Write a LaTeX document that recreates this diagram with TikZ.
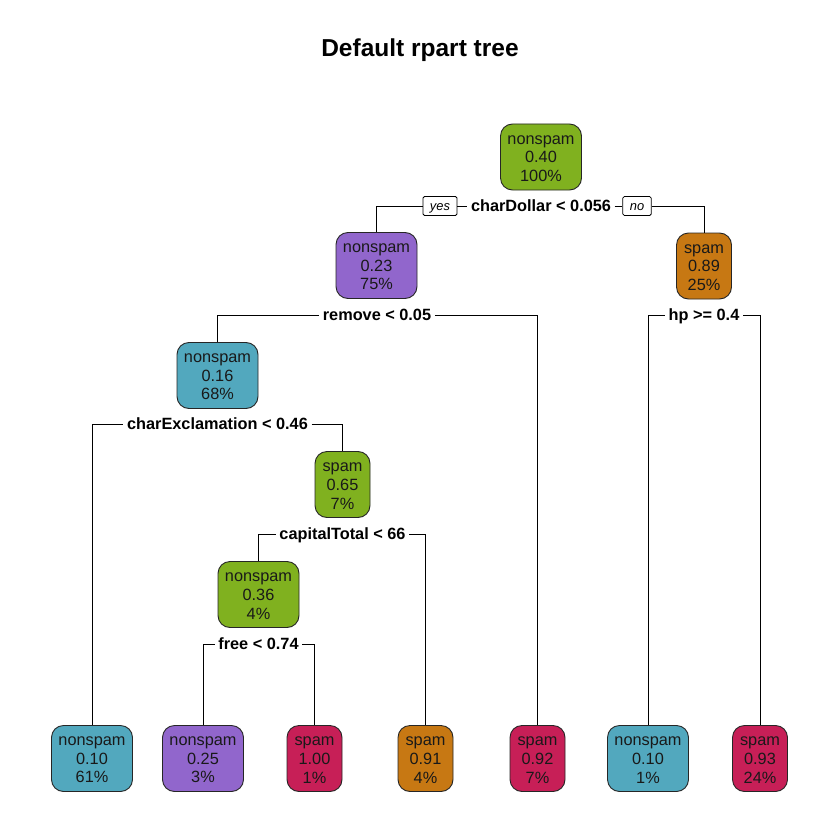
\documentclass[tikz,border=0pt]{standalone}
\usepackage{fontspec}
\setmainfont{Liberation Sans}
\definecolor{cgreen}{RGB}{128,177,31}
\definecolor{cpurple}{RGB}{145,102,204}
\definecolor{cteal}{RGB}{82,168,190}
\definecolor{corange}{RGB}{199,120,19}
\definecolor{ccrimson}{RGB}{199,31,87}
\newcommand{\nd}[3]{\rule{0pt}{11.7pt}#1\\#2\\#3}
\begin{document}
\begin{tikzpicture}[x=1pt,y=-1pt,
  tnode/.style={draw=black!85, line width=0.9pt, rounded corners=12pt, minimum height=66pt,
    inner sep=0pt, align=center, font=\fontsize{16.3}{18.7}\selectfont, text=black!90},
  wide/.style={tnode, minimum width=81pt},
  narrow/.style={tnode, minimum width=55pt},
  split/.style={fill=white, inner sep=3.5pt, font=\fontsize{16.3}{18.7}\selectfont\bfseries,
    text height=11.7pt, text depth=0pt},
  yn/.style={draw, fill=white, line width=0.8pt, rounded corners=1.5pt, inner xsep=7pt,
    minimum height=19pt, inner ysep=0pt, font=\fontsize{12.9}{14}\selectfont\itshape,
    text height=8.5pt, text depth=0pt},
  conn/.style={line width=0.9pt, black}]
\useasboundingbox (0,0) rectangle (840,840);
\node[font=\fontsize{24.5}{28}\selectfont\bfseries] (title) at (420,50) {Default rpart tree};
% internal nodes
\node[wide, fill=cgreen] (n1) at (541,157) {\nd{nonspam}{0.40}{100\%}};
\node[wide, fill=cpurple] (n2) at (376.5,265.5) {\nd{nonspam}{0.23}{75\%}};
\node[narrow, fill=corange] (n3) at (704,266) {\nd{spam}{0.89}{25\%}};
\node[wide, fill=cteal] (n4) at (217.5,375.5) {\nd{nonspam}{0.16}{68\%}};
\node[narrow, fill=cgreen] (n5) at (342.5,484.5) {\nd{spam}{0.65}{7\%}};
\node[wide, fill=cgreen] (n6) at (258.5,594.5) {\nd{nonspam}{0.36}{4\%}};
% leaves
\node[wide, fill=cteal] (l1) at (92,758.5) {\nd{nonspam}{0.10}{61\%}};
\node[wide, fill=cpurple] (l2) at (203,758.5) {\nd{nonspam}{0.25}{3\%}};
\node[narrow, fill=ccrimson] (l3) at (314.5,758.5) {\nd{spam}{1.00}{1\%}};
\node[narrow, fill=corange] (l4) at (425.5,758.5) {\nd{spam}{0.91}{4\%}};
\node[narrow, fill=ccrimson] (l5) at (537.5,758.5) {\nd{spam}{0.92}{7\%}};
\node[wide, fill=cteal] (l6) at (648,758.5) {\nd{nonspam}{0.10}{1\%}};
\node[narrow, fill=ccrimson] (l7) at (760,758.5) {\nd{spam}{0.93}{24\%}};
% split labels
\node[split] (s1) at (541,206) {charDollar < 0.056};
\node[yn] (yes) at (440,206) {yes};
\node[yn] (no) at (637,206) {no};
\node[split] (s2) at (377,315) {remove < 0.05};
\node[split] (s3) at (704,315) {hp >= 0.4};
\node[split] (s4) at (217.5,424) {charExclamation < 0.46};
\node[split] (s5) at (342.5,534) {capitalTotal < 66};
\node[split] (s6) at (258.5,644) {free < 0.74};
% connectors
\begin{scope}[on background layer/.style={}]
\end{scope}
\draw[conn] (n2.north) |- (yes.west);
\draw[conn] (yes.east) -- (s1.west);
\draw[conn] (s1.east) -- (no.west);
\draw[conn] (no.east) -| (n3.north);
\draw[conn] (n4.north) |- (s2.west);
\draw[conn] (s2.east) -| (l5.north);
\draw[conn] (l6.north) |- (s3.west);
\draw[conn] (s3.east) -| (l7.north);
\draw[conn] (l1.north) |- (s4.west);
\draw[conn] (s4.east) -| (n5.north);
\draw[conn] (n6.north) |- (s5.west);
\draw[conn] (s5.east) -| (l4.north);
\draw[conn] (l2.north) |- (s6.west);
\draw[conn] (s6.east) -| (l3.north);
\end{tikzpicture}
\end{document}
